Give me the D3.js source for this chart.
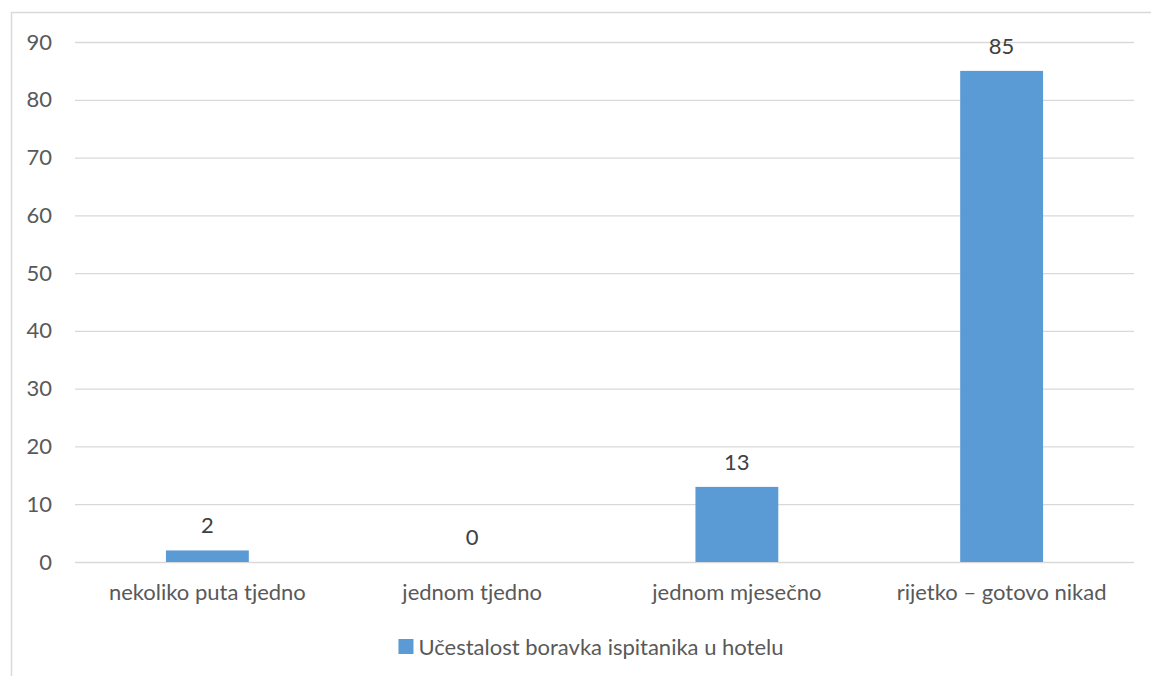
<!DOCTYPE html>
<html>
<head>
<meta charset="utf-8">
<script src="https://cdn.jsdelivr.net/npm/d3@7"></script>
<style>
  body { margin: 0; background: #fff; }
  svg { display: block; font-family: Lato, "Open Sans", sans-serif; }
</style>
</head>
<body>
<svg id="svg" width="1151" height="676"></svg>
<script>
// --- Data ---
const categories = ['nekoliko puta tjedno', 'jednom tjedno', 'jednom mjesečno', 'rijetko – gotovo nikad'];
const values     = [2, 0, 13, 85];
const yTicks     = [0, 10, 20, 30, 40, 50, 60, 70, 80, 90];
const seriesName = 'Učestalost boravka ispitanika u hotelu';

const W = 1151, H = 676;
const plot = { left: 75, right: 1134, top: 42, bottom: 562 };
const BAR = '#5b9bd5';
const FS = '22px';

const svg = d3.select('#svg');

// chart border (runs off the right and bottom edge)
svg.append('rect')
    .attr('x', 11.5).attr('y', 12.5)
    .attr('width', W).attr('height', H)
    .attr('fill', 'none')
    .attr('stroke', '#d9d9d9')
    .attr('stroke-width', 1.5);

const x = d3.scaleBand()
    .domain(categories)
    .range([plot.left, plot.right])
    .paddingInner(0.687)
    .paddingOuter(0.687 / 2);

const y = d3.scaleLinear()
    .domain([0, 90])
    .range([plot.bottom, plot.top]);

// --- Gridlines + y labels ---
const yAxis = d3.axisLeft(y)
    .tickValues(yTicks)
    .tickSize(-(plot.right - plot.left))
    .tickPadding(23);

const gy = svg.append('g')
    .attr('transform', `translate(${plot.left},0)`)
    .call(yAxis);
gy.select('.domain').remove();
gy.selectAll('line').attr('stroke', '#d9d9d9').attr('stroke-width', 1.3);
gy.selectAll('text')
    .attr('fill', '#595959')
    .attr('font-size', FS)
    .attr('font-family', 'Lato, sans-serif');

// --- Category labels ---
const xAxis = d3.axisBottom(x).tickSize(0).tickPadding(22);
const gx = svg.append('g')
    .attr('transform', `translate(0,${plot.bottom})`)
    .call(xAxis);
gx.select('.domain').remove();
gx.selectAll('text')
    .attr('fill', '#595959')
    .attr('font-size', FS)
    .attr('font-family', 'Lato, sans-serif');

// --- Bars ---
const rows = categories.map((c, i) => ({ cat: c, val: values[i] }));

svg.append('g')
    .selectAll('rect')
    .data(rows).join('rect')
    .attr('x', d => x(d.cat))
    .attr('y', d => y(d.val))
    .attr('width', x.bandwidth())
    .attr('height', d => y(0) - y(d.val))
    .attr('fill', BAR);

// --- Data labels ---
svg.append('g')
    .selectAll('text')
    .data(rows).join('text')
    .attr('x', d => x(d.cat) + x.bandwidth() / 2)
    .attr('y', d => y(d.val) - 17)
    .attr('text-anchor', 'middle')
    .attr('font-size', FS)
    .attr('fill', '#404040')
    .text(d => d.val);

// --- Legend ---
const legend = svg.append('g');
const lt = legend.append('text')
    .attr('x', 0).attr('y', 655)
    .attr('font-size', FS)
    .attr('fill', '#595959')
    .text(seriesName);
const tw = lt.node().getComputedTextLength();
const total = 15 + 5 + tw;
const lx = 591 - total / 2;
legend.append('rect')
    .attr('x', lx).attr('y', 639)
    .attr('width', 15).attr('height', 15)
    .attr('fill', BAR);
lt.attr('x', lx + 20);
</script>
</body>
</html>
